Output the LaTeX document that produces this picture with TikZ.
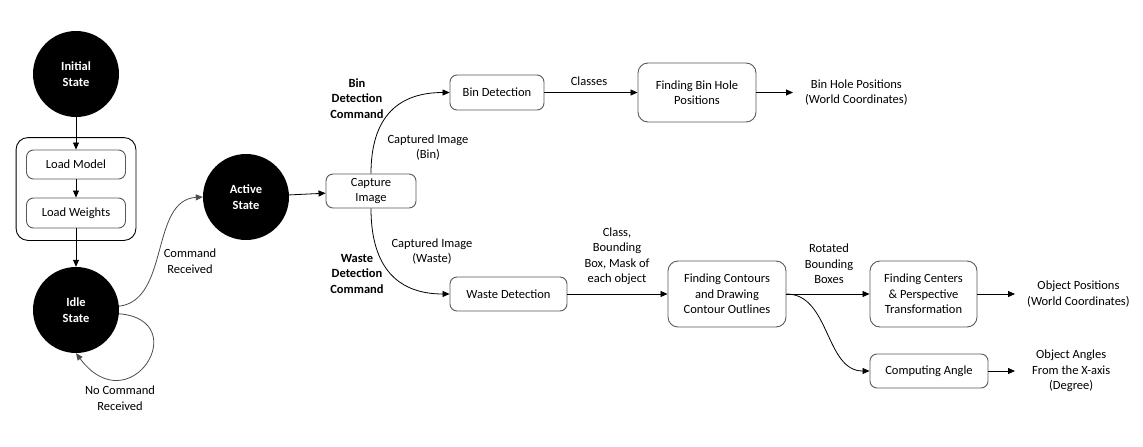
\documentclass[tikz,border=0pt]{standalone}
\usepackage{fontspec}
\setmainfont{Carlito}
\usetikzlibrary{arrows.meta,fit}

\newcommand\diafont{\fontsize{12.5}{15.5}\selectfont}

\tikzset{
  statenode/.style={circle,fill=black,text=white,font=\diafont\bfseries,align=center,minimum size=86pt,inner sep=0pt},
  procbox/.style={draw=black!65,line width=0.9pt,rounded corners=7pt,align=center,minimum height=34pt,inner sep=2pt},
  lbl/.style={align=center,inner sep=0pt},
  outtext/.style={align=center,inner xsep=12pt,inner ysep=0pt,anchor=west},
  flow/.style={-{Triangle[length=7pt,width=6pt]},line width=0.8pt},
}

\begin{document}
\begin{tikzpicture}[x=1pt,y=-1pt,font=\diafont]
\useasboundingbox (0,0) rectangle (1143,447);

\node [statenode] (init) at (76,74) {Initial\\State};
\node [procbox,minimum width=99pt,minimum height=29pt] (loadmodel) at (76,164.5) {Load Model};
\node [procbox,minimum width=99pt,minimum height=30pt] (loadweights) at (76,213) {Load Weights};
\node [draw,line width=0.9pt,rounded corners=12pt,fit=(loadmodel)(loadweights),inner xsep=10pt,inner ysep=12pt] (loadgroup) {};
\node [statenode] (idle) at (76,310) {Idle\\State};
\node [statenode] (active) at (246,197) {Active\\State};

\node [procbox,minimum width=90pt] (capture) at (371,191) {Capture\\Image};
\node [procbox,minimum width=94pt,minimum height=35pt] (bindet) at (497,92.5) {Bin Detection};
\node [procbox,minimum width=117pt] (wastedet) at (508.5,294) {Waste Detection};
\node [procbox,minimum width=118pt,minimum height=59pt,rounded corners=10pt] (binhole) at (697,92.5) {Finding Bin Hole\\Positions};
\node [procbox,minimum width=118pt,minimum height=66pt,rounded corners=10pt] (contours) at (727,294) {Finding Contours\\and Drawing\\Contour Outlines};
\node [procbox,minimum width=107pt,minimum height=66pt,rounded corners=10pt] (centers) at (923.5,294) {Finding Centers\\\& Perspective\\Transformation};
\node [procbox,minimum width=118pt] (angle) at (929,371) {Computing Angle};

\node [outtext] (binpos) at (793,92.5) {Bin Hole Positions\\(World Coordinates)};
\node [outtext] (objpos) at (1015,294) {Object Positions\\(World Coordinates)};
\node [outtext,inner xsep=17pt] (objang) at (1015,371) {Object Angles\\From the X-axis\\(Degree)};

\node [lbl] (cmdrecv) at (190,261) {Command\\Received};
\node [lbl] (nocmd) at (120,398) {No Command\\Received};
\node [lbl,font=\diafont\bfseries] (binlbl) at (357,98.5) {Bin\\Detection\\Command};
\node [lbl,font=\diafont\bfseries] (wastelbl) at (357,273.5) {Waste\\Detection\\Command};
\node [lbl] (capbin) at (428,147.5) {Captured Image\\(Bin)};
\node [lbl] (capwaste) at (432,251.5) {Captured Image\\(Waste)};
\node [lbl] (classes) at (589,81) {Classes};
\node [lbl] (classlbl) at (617,256) {Class,\\Bounding\\Box, Mask of\\each object};
\node [lbl] (rotlbl) at (829,264) {Rotated\\Bounding\\Boxes};

\draw [flow] (init) -- (loadmodel) ;
\draw [flow] (loadmodel) -- (loadweights) ;
\draw [flow] (loadweights) -- (idle) ;
\draw [flow,black!70] (idle.5) .. controls (170,300) and (150,200) .. (active.west) ;
\draw [flow,black!70] (idle.-5) .. controls (195,320) and (130,425) .. (idle.south) ;
\draw [flow] (active) -- (capture) ;
\draw [flow] (capture.north) .. controls (371,115) and (400,92.5) .. (bindet.west) ;
\draw [flow] (capture.south) .. controls (371,270) and (400,294) .. (wastedet.west) ;
\draw [flow] (bindet) -- (binhole) ;
\draw [flow] (binhole) -- (binpos) ;
\draw [flow] (wastedet) -- (contours) ;
\draw [flow] (contours) -- (centers) ;
\draw [flow] (contours.east) .. controls (830,294) and (825,371) .. (angle.west) ;
\draw [flow] (centers) -- (objpos) ;
\draw [flow] (angle) -- (objang) ;

\end{tikzpicture}
\end{document}
